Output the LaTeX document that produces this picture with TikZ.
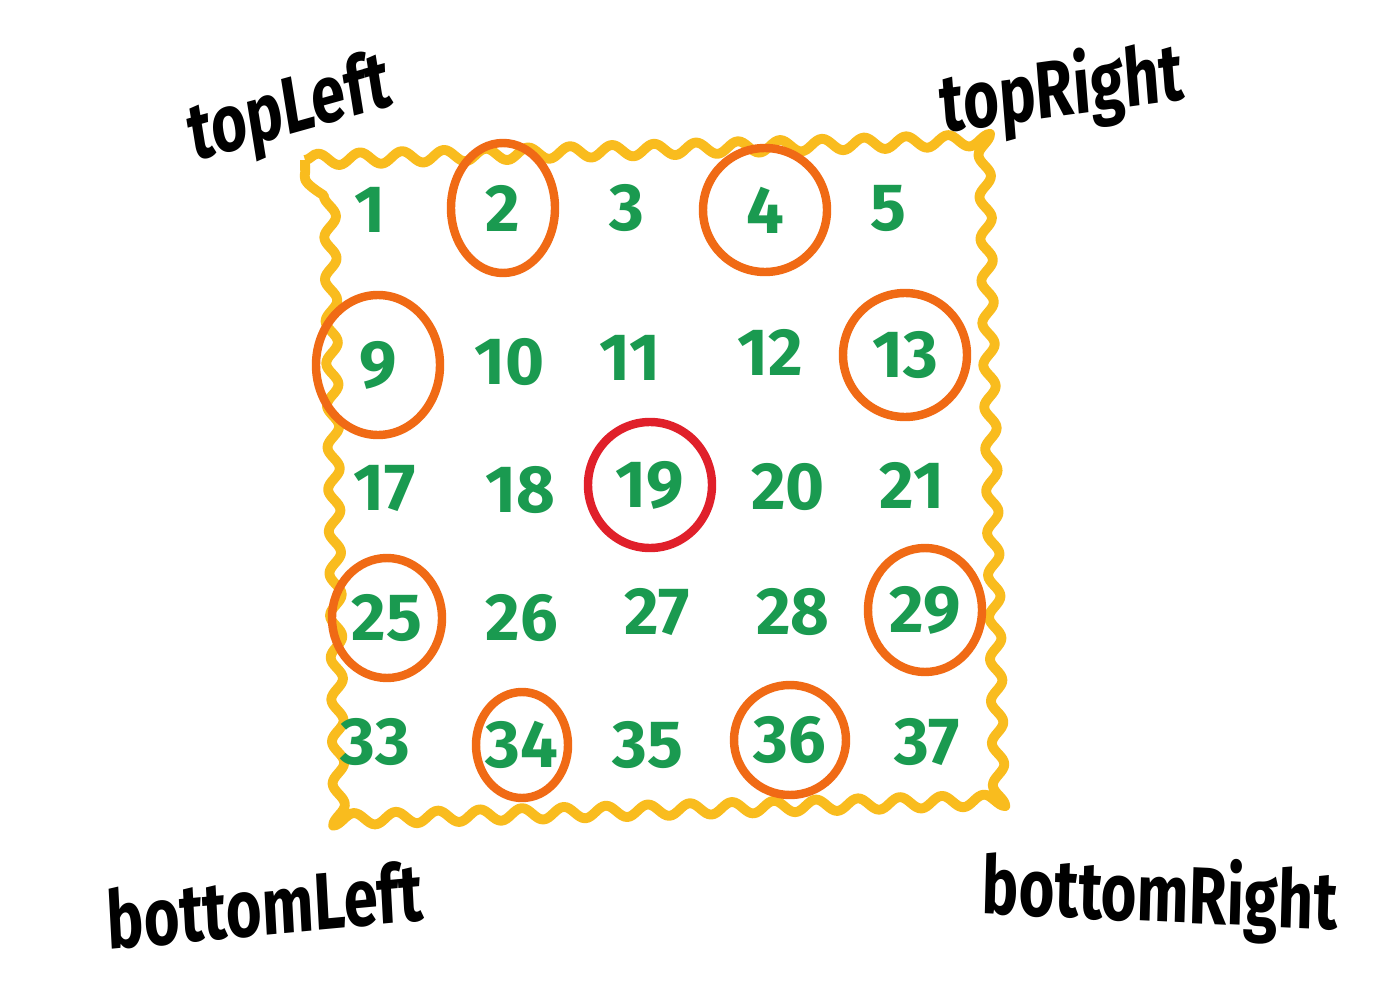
\documentclass[tikz,border=0pt]{standalone}
\usepackage{fontspec}
\setmainfont{Fira Sans}
\usetikzlibrary{decorations.pathmorphing}
\definecolor{numgreen}{HTML}{1A9A50}
\definecolor{ringorange}{HTML}{F06A15}
\definecolor{ringred}{HTML}{E0202A}
\definecolor{frameyellow}{HTML}{F9BC1E}
\begin{document}
\begin{tikzpicture}[x=0.01cm,y=-0.01cm,
    num/.style={text=numgreen,font=\fontsize{19}{22}\selectfont\bfseries},
    ring/.style={draw=ringorange,line width=2.4pt},
    tag/.style={font=\fontsize{23}{26}\selectfont\bfseries,xscale=0.76}]
  \useasboundingbox (0,0) rectangle (1400,997);
  \fill[white] (0,0) rectangle (1400,997);
  % wavy frame
  \draw[frameyellow,line width=2.8pt,line join=round,decorate,
    decoration={snake,segment length=0.42cm,amplitude=0.06cm}]
    (305,160) -- (985,140) -- (1000,800) -- (315,820) -- cycle;
  % numbers
  \foreach \name/\x/\y in {1/370/210,2/503/208,3/627/208,4/765/210,5/888/208,
      9/378/365,10/510/362,11/630/358,12/770/352,13/905/355,
      17/385/488,18/520/490,19/650/485,20/788/487,21/912/485,
      25/387/618,26/522/618,27/657/612,28/793/612,29/925/610,
      33/375/742,34/522/745,35/648/745,36/790/740,37/927/742}
    \node[num] (n\name) at (\x,\y) {\name};
  % rings
  \draw[ring] (n2) ellipse [x radius=52,y radius=65];
  \draw[ring] (n4) ellipse [x radius=62,y radius=62];
  \draw[ring] (n9) ellipse [x radius=62,y radius=70];
  \draw[ring] (n13) ellipse [x radius=62,y radius=62];
  \draw[ring] (n25) ellipse [x radius=55,y radius=60];
  \draw[ring] (n29) ellipse [x radius=57,y radius=62];
  \draw[ring] (n34) ellipse [x radius=46,y radius=53];
  \draw[ring] (n36) ellipse [x radius=56,y radius=55];
  \draw[ring,draw=ringred] (n19) ellipse [x radius=62,y radius=63];
  % corner labels
  \node[tag,rotate=12] (tl) at (290,112) {topLeft};
  \node[tag,rotate=6] (tr) at (1062,92) {topRight};
  \node[tag,rotate=4] (bl) at (265,905) {bottomLeft};
  \node[tag,rotate=-2] (br) at (1160,898) {bottomRight};
\end{tikzpicture}
\end{document}
